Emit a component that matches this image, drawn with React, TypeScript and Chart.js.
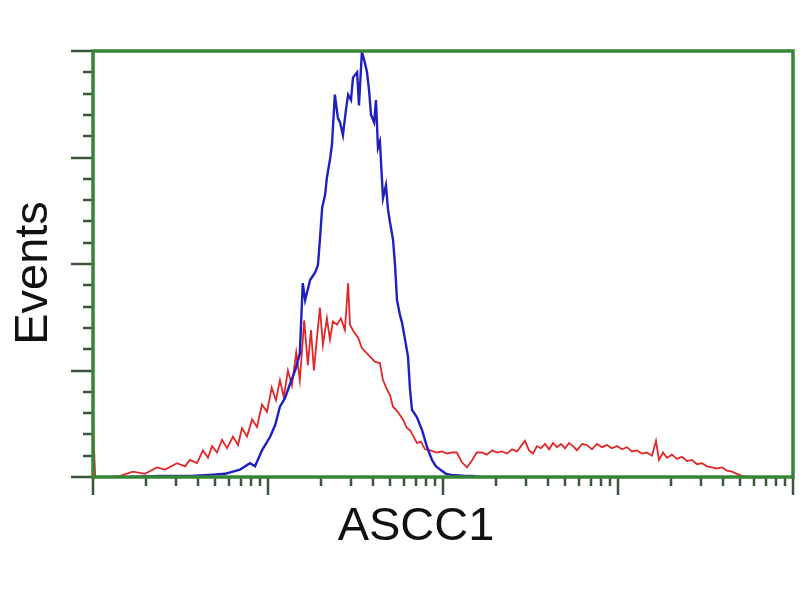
import React, { useEffect, useRef } from "react";
import { Chart, registerables } from "chart.js";

Chart.register(...registerables);

// Fluorescence channel values (log scale) and event counts
const blueX = [1.63, 2.41, 3.58, 4.66, 5.68, 6.92, 7.89, 8.43, 9.24, 10.3, 11.0, 11.7, 12.5, 13.4, 14.3, 15.2, 15.8, 16.3, 17.4, 18.6, 19.3, 19.8, 20.4, 21.2, 21.7, 22.6, 23.2, 24.1, 25.1, 25.8, 26.8, 27.9, 28.7, 29.8, 30.6, 32.3, 33.1, 34.4, 35.4, 36.8, 37.8, 38.8, 40.4, 41.4, 42.5, 43.6, 45.4, 47.2, 48.5, 49.8, 51.8, 53.2, 54.6, 56.8, 58.3, 60.7, 63.1, 64.8, 66.5, 71.0, 75.9, 81.1, 86.5, 91.2, 96.2, 104, 112, 134, 148, 163];
const blueY = [0, 1, 1, 2, 3, 7, 13, 10, 25, 38, 49, 66, 74, 88, 100, 116, 182, 166, 185, 192, 199, 223, 253, 265, 281, 298, 312, 359, 337, 333, 321, 345, 359, 354, 375, 380, 349, 399, 392, 380, 363, 340, 333, 354, 309, 315, 262, 274, 251, 239, 223, 199, 166, 152, 145, 129, 113, 82, 63, 56, 44, 28, 16, 10, 7, 3, 2, 1, 1, 0];

const redX = [1.0, 1.03, 1.25, 1.43, 1.69, 1.98, 2.32, 2.58, 3.02, 3.36, 3.58, 3.93, 4.25, 4.54, 4.79, 5.11, 5.46, 5.83, 6.31, 6.74, 7.10, 7.59, 8.11, 8.65, 9.24, 9.87, 10.5, 11.1, 11.7, 12.3, 13.0, 13.7, 14.5, 15.2, 16.1, 16.9, 17.6, 18.3, 19.1, 19.8, 20.6, 21.7, 22.6, 23.5, 24.8, 26.1, 27.5, 28.7, 29.4, 31.0, 32.7, 34.4, 36.3, 38.3, 40.9, 43.6, 45.4, 47.9, 49.8, 51.8, 55.3, 59.0, 62.2, 64.8, 68.3, 71.0, 74.8, 78.9, 84.3, 92.4, 98.7, 105, 112, 120, 128, 137, 147, 156, 167, 178, 191, 204, 217, 232, 248, 265, 279, 294, 310, 327, 344, 363, 383, 404, 425, 448, 472, 498, 525, 553, 583, 623, 665, 710, 759, 810, 865, 924, 987, 1054, 1125, 1202, 1284, 1371, 1465, 1564, 1648, 1714, 1807, 1905, 2035, 2173, 2321, 2479, 2648, 2828, 3020, 3225, 3444, 3679, 3929, 4196, 4482, 4786, 5112, 5459];
const redY = [50, 0, 0, 1, 5, 3, 9, 7, 13, 10, 16, 13, 25, 18, 29, 23, 35, 27, 38, 30, 46, 38, 54, 47, 68, 61, 84, 72, 91, 75, 100, 86, 117, 91, 147, 105, 138, 100, 133, 159, 124, 149, 129, 146, 143, 149, 138, 182, 143, 136, 131, 121, 117, 113, 108, 107, 91, 82, 77, 66, 61, 54, 46, 44, 37, 32, 33, 26, 25, 23, 24, 22, 23, 23, 14, 9, 16, 23, 23, 21, 25, 23, 24, 22, 26, 24, 29, 34, 25, 22, 29, 27, 31, 26, 32, 28, 31, 27, 32, 29, 25, 31, 30, 26, 31, 28, 30, 27, 29, 26, 28, 24, 25, 22, 23, 20, 34, 16, 23, 18, 21, 17, 19, 15, 16, 12, 13, 10, 9, 8, 9, 6, 5, 3, 1, 0];

const xMin = 1;
const xMax = 10000;
const yMin = 0;
const yMax = 400;
const yMajorStep = 100;
const yMinorStep = 20;
const xDecades = [1, 10, 100, 1000];
const xMultipliers = [1, 2, 3, 4, 5, 6, 7, 8, 9];

const xTitle = "ASCC1";
const yTitle = "Events";

const frameColor = "#368636";
const tickColor = "#3a553a";

const framePlugin = {
  id: "framePlugin",
  afterDatasetsDraw(chart: any) {
    const { ctx, chartArea, scales } = chart;
    const { left, right, top, bottom } = chartArea;
    ctx.save();
    // ticks
    ctx.strokeStyle = tickColor;
    ctx.lineWidth = 2.5;
    for (let v = yMin; v <= yMax; v += yMinorStep) {
      const py = Math.round(scales.y.getPixelForValue(v));
      const len = v % yMajorStep === 0 ? 22 : 10;
      ctx.beginPath();
      ctx.moveTo(left - len, py);
      ctx.lineTo(left, py);
      ctx.stroke();
    }
    const xt: number[] = [];
    xDecades.forEach((d) => xMultipliers.forEach((m) => xt.push(d * m)));
    xt.push(xMax);
    xt.forEach((v) => {
      const px = Math.round(scales.x.getPixelForValue(v));
      const major = Math.abs(Math.log10(v) - Math.round(Math.log10(v))) < 1e-9;
      const len = major ? 18 : 9;
      ctx.beginPath();
      ctx.moveTo(px, bottom);
      ctx.lineTo(px, bottom + len);
      ctx.stroke();
    });
    // frame
    ctx.strokeStyle = frameColor;
    ctx.lineWidth = 3.5;
    ctx.strokeRect(left, top, right - left, bottom - top);
    // titles
    ctx.fillStyle = "#111";
    ctx.font = "47px 'Liberation Sans', Arial, sans-serif";
    ctx.textAlign = "center";
    ctx.textBaseline = "alphabetic";
    ctx.fillText(xTitle, (left + right) / 2 - 27, 540);
    ctx.translate(47, (top + bottom) / 2 + 9);
    ctx.rotate(-Math.PI / 2);
    ctx.fillText(yTitle, 0, 0);
    ctx.restore();
  },
};

export default function App() {
  const ref = useRef<HTMLCanvasElement | null>(null);
  useEffect(() => {
    if (!ref.current) return;
    const chart = new Chart(ref.current, {
      type: "line",
      data: {
        datasets: [
          {
            label: "control",
            data: blueX.map((x, i) => ({ x, y: blueY[i] })),
            borderColor: "#2020c0",
            borderWidth: 2.4,
            pointRadius: 0,
            tension: 0,
          },
          {
            label: "ASCC1",
            data: redX.map((x, i) => ({ x, y: redY[i] })),
            borderColor: "#e02828",
            borderWidth: 1.8,
            pointRadius: 0,
            tension: 0,
          },
        ],
      },
      options: {
        animation: false,
        responsive: true,
        maintainAspectRatio: false,
        layout: { padding: { left: 93, top: 51, right: 7, bottom: 123 } },
        plugins: { legend: { display: false }, tooltip: { enabled: false } },
        scales: {
          x: { type: "logarithmic", min: xMin, max: xMax, display: false },
          y: { type: "linear", min: yMin, max: yMax, display: false },
        },
      },
      plugins: [framePlugin],
    });
    return () => chart.destroy();
  }, []);
  return (
    <div style={{ position: "fixed", left: 0, top: 0, width: 800, height: 600, background: "#fff" }}>
      <canvas ref={ref} />
    </div>
  );
}
